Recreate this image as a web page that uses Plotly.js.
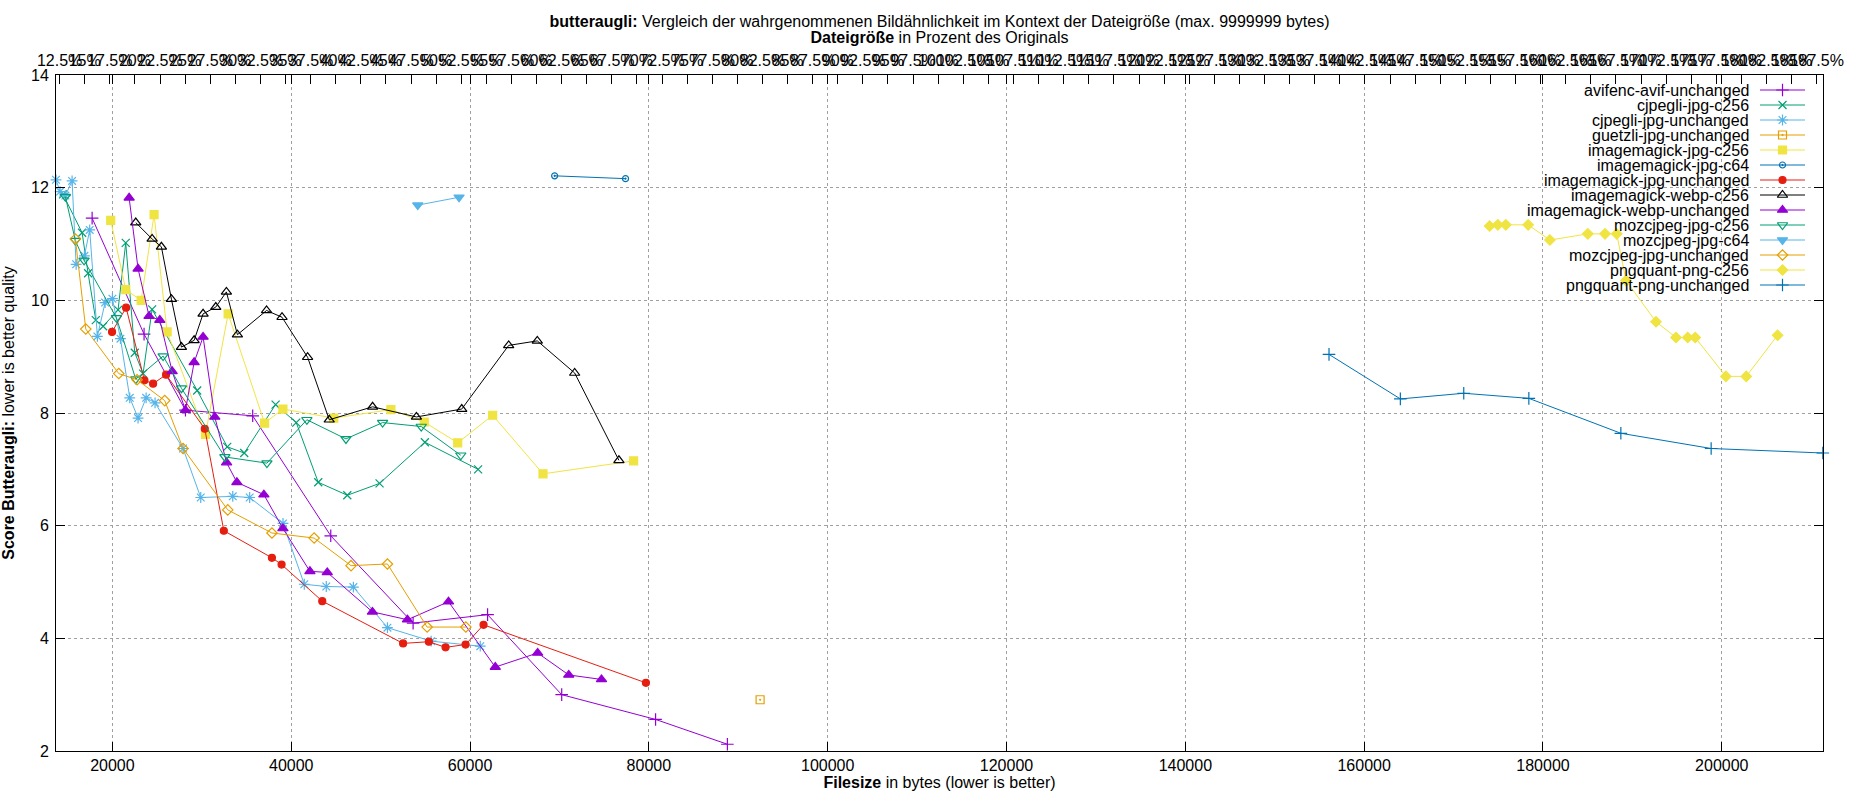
<!DOCTYPE html>
<html>
<head>
<meta charset="utf-8">
<script src="https://cdn.plot.ly/plotly-3.0.1.min.js"></script>
<style>
  html, body { margin: 0; padding: 0; background: #fff; }
  #chart { width: 1850px; height: 800px; }
</style>
</head>
<body>
<div id="chart"></div>
<script>
// values (filesize in bytes, butteraugli score)
var avifencX = [17730, 23540, 28170, 35690, 44420, 53630, 61960, 70250, 80750, 88780];
var avifencY = [11.46, 9.40, 8.05, 7.95, 5.82, 4.27, 4.42, 3.00, 2.56, 2.12];

var cjpegliC256X = [14480, 16610, 17280, 18140, 18960, 20630, 21490, 22500, 23430, 24440, 29480, 32840, 34740, 38250, 40560, 43020, 46270, 49880, 54950, 60900];
var cjpegliC256Y = [11.88, 11.20, 10.48, 9.65, 9.54, 9.83, 11.02, 9.07, 8.70, 9.84, 8.40, 7.40, 7.29, 8.15, 7.83, 6.77, 6.54, 6.75, 7.48, 7.00];

var cjpegliUnchX = [13690, 14150, 14740, 15490, 15940, 16870, 17460, 18320, 19180, 20000, 20900, 21940, 22870, 23770, 24770, 27900, 29880, 33460, 35350, 39080, 41460, 43920, 46950, 50760, 55650, 61140];
var cjpegliUnchY = [12.14, 11.93, 11.86, 12.12, 10.64, 10.79, 11.25, 9.36, 9.96, 10.03, 9.32, 8.27, 7.91, 8.27, 8.18, 7.37, 6.50, 6.52, 6.50, 6.04, 4.96, 4.92, 4.91, 4.19, 3.95, 3.86];

var guetzliX = [92440];
var guetzliY = [2.91];

var imJpgC256X = [19810, 21490, 23210, 24660, 26120, 30410, 32940, 37020, 39070, 44760, 51150, 54880, 58620, 62530, 68160, 78290];
var imJpgC256Y = [11.42, 10.19, 10.00, 11.52, 9.44, 7.62, 9.76, 7.82, 8.07, 7.91, 8.06, 7.84, 7.47, 7.96, 6.92, 7.15];

var imJpgC64X = [69460, 77390];
var imJpgC64Y = [12.21, 12.16];

var imJpgUnchX = [19960, 21530, 23580, 24550, 26000, 30330, 32460, 37840, 38920, 43470, 52510, 55390, 57260, 59500, 61510, 79670];
var imJpgUnchY = [9.44, 9.87, 8.58, 8.52, 8.68, 7.72, 5.91, 5.43, 5.31, 4.66, 3.91, 3.94, 3.84, 3.89, 4.24, 3.21];

var imWebpC256X = [22610, 24440, 25480, 26600, 27720, 29140, 30140, 31560, 32750, 33980, 37240, 38970, 41830, 44250, 49100, 54000, 59070, 64320, 67520, 71700, 76650];
var imWebpC256Y = [11.38, 11.09, 10.95, 10.02, 9.17, 9.29, 9.76, 9.88, 10.15, 9.39, 9.82, 9.70, 8.99, 7.88, 8.11, 7.93, 8.07, 9.20, 9.28, 8.71, 7.16];

var imWebpUnchX = [21870, 22870, 24100, 25300, 26680, 28170, 29140, 30140, 31450, 32770, 33920, 36940, 39070, 42090, 44030, 49080, 53000, 57590, 62820, 67560, 71040, 74700];
var imWebpUnchY = [11.82, 10.56, 9.72, 9.65, 8.74, 8.05, 8.90, 9.35, 7.93, 7.12, 6.77, 6.55, 5.95, 5.19, 5.17, 4.47, 4.33, 4.65, 3.49, 3.74, 3.35, 3.27];

var mozC256X = [14740, 15860, 16830, 20450, 22610, 25670, 27720, 32580, 37280, 41750, 46120, 50220, 54540, 58960];
var mozC256Y = [11.84, 11.06, 10.71, 9.69, 8.60, 9.01, 8.44, 7.22, 7.11, 7.88, 7.54, 7.83, 7.76, 7.25];

var mozC64X = [54150, 58770];
var mozC64Y = [11.69, 11.83];

var mozUnchX = [15860, 17020, 20710, 22760, 25850, 27900, 32900, 37840, 42560, 46690, 50760, 55200, 59530];
var mozUnchY = [11.09, 9.49, 8.70, 8.59, 8.22, 7.37, 6.28, 5.87, 5.78, 5.29, 5.32, 4.20, 4.20];

var pngC256X = [174030, 174950, 175840, 178340, 180770, 185010, 186940, 188250, 189290, 192640, 194880, 196190, 197030, 200460, 202740, 206240];
var pngC256Y = [11.32, 11.34, 11.34, 11.34, 11.07, 11.18, 11.18, 11.18, 10.35, 9.62, 9.34, 9.34, 9.34, 8.65, 8.65, 9.38];

var pngUnchX = [156070, 164050, 171140, 178420, 188710, 198810, 211300];
var pngUnchY = [9.04, 8.25, 8.35, 8.26, 7.64, 7.37, 7.29];

var xTicks = [20000, 40000, 60000, 80000, 100000, 120000, 140000, 160000, 180000, 200000];
var yTicks = [2, 4, 6, 8, 10, 12, 14];
var X_RANGE = [13690, 211320];
var PCT_RANGE = [12.14, 188.12];   // top axis, percent of the original size

var font = 'Liberation Sans, Arial, sans-serif';

// name, x, y, colour, symbol, size
var series = [
  ['avifenc-avif-unchanged', avifencX, avifencY, '#9400d3', 'cross-thin-open', 9],
  ['cjpegli-jpg-c256', cjpegliC256X, cjpegliC256Y, '#009e73', 'x-thin-open', 8],
  ['cjpegli-jpg-unchanged', cjpegliUnchX, cjpegliUnchY, '#56b4e9', 'asterisk-open', 9],
  ['guetzli-jpg-unchanged', guetzliX, guetzliY, '#e69f00', 'square-open-dot', 8],
  ['imagemagick-jpg-c256', imJpgC256X, imJpgC256Y, '#f0e442', 'square', 8],
  ['imagemagick-jpg-c64', imJpgC64X, imJpgC64Y, '#0072b2', 'circle-open-dot', 6],
  ['imagemagick-jpg-unchanged', imJpgUnchX, imJpgUnchY, '#e51e10', 'circle', 7],
  ['imagemagick-webp-c256', imWebpC256X, imWebpC256Y, '#000000', 'triangle-up-open', 9],
  ['imagemagick-webp-unchanged', imWebpUnchX, imWebpUnchY, '#9400d3', 'triangle-up', 9],
  ['mozcjpeg-jpg-c256', mozC256X, mozC256Y, '#009e73', 'triangle-down-open', 9],
  ['mozcjpeg-jpg-c64', mozC64X, mozC64Y, '#56b4e9', 'triangle-down', 9],
  ['mozcjpeg-jpg-unchanged', mozUnchX, mozUnchY, '#e69f00', 'diamond-open', 8],
  ['pngquant-png-c256', pngC256X, pngC256Y, '#f0e442', 'diamond', 8],
  ['pngquant-png-unchanged', pngUnchX, pngUnchY, '#0072b2', 'cross-thin-open', 9]
];

var traces = series.map(function(s) {
  return {
    type: 'scatter', mode: 'lines+markers', name: s[0],
    x: s[1], y: s[2], cliponaxis: false,
    line: {color: s[3], width: 1},
    marker: {color: s[3], symbol: s[4], size: s[5], line: {color: s[3], width: 1.2}}
  };
});
// empty trace so the percent axis gets drawn
traces.push({type: 'scatter', x: [], y: [], xaxis: 'x2', showlegend: false, hoverinfo: 'skip'});

// gnuplot style key: text right-aligned, line sample with the point on the right.
// The key lives on its own overlay axes: one unit across = the sample line, one unit down = one row.
var KEY_LEFT = 1760, KEY_W = 45, KEY_TOP = 90, KEY_ROW = 15;   // px
var PLOT_L = 56, PLOT_W = 1767, PLOT_T = 75, PLOT_H = 676;
var keyX0 = -(KEY_LEFT - PLOT_L) / KEY_W;
var keyY0 = -(KEY_TOP - PLOT_T) / KEY_ROW;
var annotations = [];
series.forEach(function(s, i) {
  traces.push({
    type: 'scatter', mode: 'lines+markers', xaxis: 'x3', yaxis: 'y3',
    x: [0, 0.5, 1], y: [i, i, i], showlegend: false, hoverinfo: 'skip', cliponaxis: false,
    line: {color: s[3], width: 1},
    marker: {color: s[3], symbol: s[4], size: s[5], opacity: [0, 1, 0], line: {color: s[3], width: 1.2}}
  });
  annotations.push({
    xref: 'x3', yref: 'y3', x: 0, y: i, xanchor: 'right', yanchor: 'middle',
    xshift: -9, showarrow: false, text: s[0],
    font: {family: font, size: 16, color: '#000'}
  });
});

var pctTicks = [], pctLabels = [];
for (var p = 12.5; p <= 187.5; p += 2.5) {
  pctTicks.push(p);
  pctLabels.push(p + '%');
}

var gridCol = '#a0a0a0';
var titleFont = {family: font, size: 16, color: '#000'};
var layout = {
  width: 1850, height: 800,
  margin: {l: PLOT_L, r: 1850 - PLOT_L - PLOT_W, t: PLOT_T, b: 800 - PLOT_T - PLOT_H},
  paper_bgcolor: '#fff', plot_bgcolor: '#fff',
  font: {family: font, size: 16, color: '#000'},
  showlegend: false,
  title: {
    text: '<b>butteraugli:</b> Vergleich der wahrgenommenen Bildähnlichkeit im Kontext der Dateigröße (max. 9999999 bytes)',
    x: 0.5, xref: 'paper', xanchor: 'center',
    y: 1 - 21 / 800, yref: 'container', yanchor: 'middle',
    font: titleFont
  },
  xaxis: {
    range: X_RANGE, tickvals: xTicks, ticktext: xTicks.map(String),
    ticks: 'inside', ticklen: 9, tickcolor: '#000',
    showline: true, linecolor: '#000', linewidth: 1, mirror: 'ticks',
    showgrid: true, gridcolor: gridCol, griddash: 'dot', gridwidth: 1,
    zeroline: false, tickangle: 0,
    title: {text: '<b>Filesize</b> in bytes (lower is better)', standoff: 2, font: titleFont}
  },
  xaxis2: {
    overlaying: 'x', side: 'top', anchor: 'y',
    range: PCT_RANGE,
    tickvals: pctTicks, ticktext: pctLabels, tickangle: 0,
    ticks: 'inside', ticklen: 9, tickcolor: '#000', ticklabelstandoff: 2,
    ticklabeloverflow: 'allow',
    showline: true, linecolor: '#000', linewidth: 1,
    showgrid: false, zeroline: false,
    title: {text: '<b>Dateigröße</b> in Prozent des Originals', standoff: 3, font: titleFont}
  },
  xaxis3: {
    overlaying: 'x', anchor: 'y3', visible: false, fixedrange: true,
    range: [keyX0, keyX0 + PLOT_W / KEY_W]
  },
  yaxis: {
    range: [2, 14], tickvals: yTicks, ticktext: yTicks.map(String),
    ticks: 'inside', ticklen: 9, tickcolor: '#000',
    showline: true, linecolor: '#000', linewidth: 1, mirror: 'ticks',
    showgrid: true, gridcolor: gridCol, griddash: 'dot', gridwidth: 1,
    zeroline: false, ticklabelstandoff: 3,
    title: {text: '<b>Score Butteraugli:</b> lower is better quality', standoff: 12, font: titleFont}
  },
  yaxis3: {
    overlaying: 'y', anchor: 'x3', visible: false, fixedrange: true,
    range: [keyY0 + PLOT_H / KEY_ROW, keyY0]
  },
  annotations: annotations,
  shapes: [{
    // key area hides the grid, as in the reference
    type: 'rect', xref: 'paper', yref: 'paper', layer: 'between',
    x0: (1522 - PLOT_L) / PLOT_W, x1: 1, y0: (PLOT_T + PLOT_H - 289) / PLOT_H, y1: 1,
    fillcolor: '#fff', line: {width: 0}
  }]
};

Plotly.newPlot('chart', traces, layout, {staticPlot: true});
</script>
</body>
</html>
